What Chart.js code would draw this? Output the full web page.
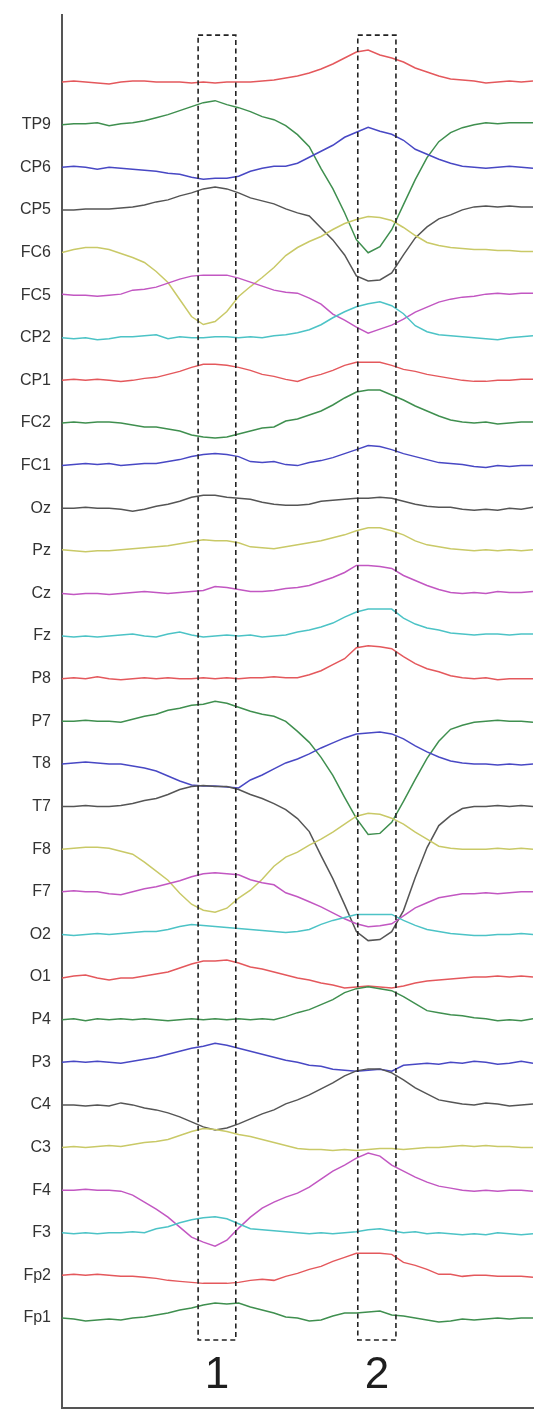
<!DOCTYPE html>
<html>
<head>
<meta charset="utf-8">
<script src="https://cdn.jsdelivr.net/npm/chart.js@4.4.1/dist/chart.umd.min.js"></script>
<style>
html, body { margin: 0; padding: 0; background: #fff; }
#wrap { width: 540px; height: 1413px; }
</style>
</head>
<body>
<div id="wrap"><canvas id="chart"></canvas></div>
<script>
// sample times (arbitrary units across the record)
var times = [0,2.5,5,7.5,10,12.5,15,17.5,20,22.5,25,27.5,30,32.5,35,37.5,40,42.5,45,47.5,
             50,52.5,55,57.5,60,62.5,65,67.5,70,72.5,75,77.5,80,82.5,85,87.5,90,92.5,95,97.5,100];

// channel names, bottom to top (top trace has no label)
var channels = ['Fp1','Fp2','F3','F4','C3','C4','P3','P4','O1','O2','F7','F8','T7','T8','P7','P8',
                'Fz','Cz','Pz','Oz','FC1','FC2','CP1','CP2','FC5','FC6','CP5','CP6','TP9',''];

// deviation of each trace from its baseline
var Fp1 = [0,-1,-3,-2,-1,-2,0,1,3,5,8,10,13,15,14,15,11,8,5,1,0,-3,-2,2,5,5,6,7,3,2,0,-2,-4,-3,-1,-2,-1,0,-1,0,0];
var Fp2 = [0,1,0,1,0,-1,-1,-2,-3,-5,-6,-7,-8,-8,-8,-7,-5,-4,-5,-1,2,6,9,14,18,22,22,22,21,13,10,6,1,1,-1,0,0,-1,-1,-1,-2];
var F3  = [0,-1,0,-1,0,0,1,0,4,6,10,13,15,16,14,9,4,3,2,1,0,-1,0,-1,0,1,3,4,2,0,1,-1,0,-1,-2,-1,-2,0,-1,-2,-1];
var F4  = [0,0,1,0,0,-1,-5,-12,-19,-27,-37,-47,-52,-56,-50,-38,-27,-18,-12,-7,-3,3,11,19,25,32,37,34,25,19,13,8,4,2,0,-1,0,-1,0,0,-1];
var C3  = [0,1,0,1,2,1,3,5,6,8,12,16,19,18,16,13,11,8,5,2,-1,-2,-2,-3,-2,-3,-2,-1,-1,-2,-1,0,0,1,2,1,2,1,1,0,0];
var C4  = [0,0,-1,0,-1,2,0,-3,-5,-8,-12,-17,-22,-25,-23,-19,-14,-9,-5,1,5,10,16,22,29,34,36,36,32,25,17,11,5,3,1,0,2,1,-1,0,1];
var P3  = [0,1,0,1,0,-1,1,3,5,8,11,14,16,19,17,14,11,8,5,2,0,-3,-4,-7,-8,-9,-8,-7,-9,-3,-2,-1,-2,0,-1,1,0,-2,-1,1,-1];
var P4  = [0,1,-1,1,0,1,0,1,0,-1,0,1,0,1,0,1,0,1,0,3,7,10,15,20,27,31,33,31,29,23,16,9,7,5,4,2,1,-1,0,-1,1];
var O1  = [-1,1,2,-1,-3,-1,-1,1,3,5,9,13,16,16,17,14,10,8,5,2,-1,-3,-6,-8,-11,-10,-9,-10,-11,-9,-6,-4,-3,-2,-1,0,0,1,0,1,0];
var O2  = [0,-1,0,1,0,1,2,3,3,5,8,10,9,8,7,6,5,4,3,2,3,5,10,14,17,20,20,20,20,14,9,5,3,1,0,-1,-1,0,0,1,0];
var F7  = [0,1,0,0,-2,-3,0,3,5,8,11,15,18,19,18,17,12,9,7,-1,-5,-10,-15,-21,-27,-32,-35,-34,-32,-24,-16,-11,-6,-4,-2,-2,-1,-2,-1,0,0];
var F8  = [0,1,2,2,1,-2,-5,-13,-22,-31,-44,-55,-61,-63,-59,-49,-41,-30,-17,-8,-3,4,10,17,25,33,36,35,31,25,17,10,3,1,0,0,0,1,0,1,0];
var T7  = [0,0,1,0,0,1,3,6,8,12,17,20,21,20,20,17,12,8,3,-3,-12,-25,-49,-72,-98,-125,-134,-133,-125,-104,-71,-41,-19,-9,-2,0,0,1,0,1,0];
var T8  = [0,1,2,1,0,0,-2,-4,-7,-12,-17,-21,-22,-22,-23,-24,-16,-11,-5,1,5,10,16,21,26,30,31,32,30,25,18,12,7,3,1,0,0,-1,0,-1,0];
var P7  = [0,0,1,0,0,-1,2,5,7,11,13,16,17,20,18,14,10,7,5,0,-10,-21,-36,-54,-76,-97,-113,-112,-101,-80,-58,-37,-20,-8,-4,-1,0,1,0,0,-1];
var P8  = [0,1,0,2,0,-1,0,1,0,1,0,0,1,0,1,0,1,1,2,1,1,4,8,14,20,31,33,32,30,22,15,10,7,3,1,0,1,-1,0,0,0];
var Fz  = [0,-1,0,-1,0,1,2,0,-1,2,4,1,-1,0,1,0,1,-1,0,1,4,6,9,13,19,24,27,27,27,18,12,8,6,3,2,1,2,2,1,2,2];
var Cz  = [0,-1,0,0,-1,0,1,2,1,0,1,2,3,7,6,4,2,2,3,5,6,8,12,16,21,28,28,27,25,18,13,8,4,1,0,1,0,2,1,1,2];
var Pz  = [1,0,-1,0,0,1,2,3,4,5,7,9,11,10,10,8,4,3,2,4,6,8,10,13,16,20,23,23,20,16,10,6,4,2,1,0,1,0,1,0,1];
var Oz  = [0,0,1,0,0,-1,-3,-1,2,4,7,11,13,13,11,10,9,6,4,3,3,4,7,8,9,10,10,11,10,7,4,2,1,1,-1,-2,-1,-2,0,-1,1];
var FC1 = [0,1,2,1,2,0,1,2,2,4,6,9,11,12,11,9,4,3,4,1,0,3,5,8,12,16,20,19,16,12,9,6,3,2,1,-1,-2,0,-1,0,0];
var FC2 = [0,1,0,1,1,0,-2,-4,-4,-6,-8,-12,-14,-15,-14,-11,-8,-5,-4,2,4,8,12,18,25,31,33,33,28,23,17,12,7,3,1,0,1,-1,0,1,1];
var CP1 = [0,1,0,1,0,-1,0,2,3,6,9,13,16,16,15,13,10,6,4,1,-1,3,6,10,15,18,18,18,15,11,9,6,4,2,0,-1,-1,0,0,1,1];
var CP2 = [0,-1,0,-2,-1,1,1,2,3,-1,1,0,0,1,1,0,1,0,2,3,5,8,13,20,26,31,34,36,32,24,12,6,3,2,1,0,-1,-2,0,1,2];
var FC5 = [1,0,0,-1,0,1,5,6,8,12,16,19,20,20,20,17,13,9,5,3,2,-3,-9,-19,-25,-32,-38,-34,-30,-24,-17,-12,-7,-4,-2,-1,1,2,1,2,2];
var FC6 = [0,3,5,5,3,-1,-5,-10,-19,-30,-47,-64,-72,-69,-59,-44,-34,-25,-15,-3,5,11,16,23,29,33,36,35,32,25,17,10,7,5,4,3,3,2,2,1,1];
var CP5 = [0,0,1,1,1,2,3,5,8,10,14,17,21,23,21,17,12,9,6,1,-3,-6,-18,-30,-45,-66,-71,-70,-63,-45,-28,-17,-9,-5,0,3,4,3,4,3,3];
var CP6 = [0,1,0,-2,0,-1,-2,-3,-4,-6,-7,-10,-12,-11,-11,-9,-4,-1,1,1,4,10,16,22,30,35,40,36,33,27,18,13,8,4,1,0,-1,0,1,0,-1];
var TP9 = [0,1,1,2,-1,1,2,4,7,10,14,18,22,24,20,17,13,8,5,-1,-10,-22,-44,-64,-88,-115,-128,-122,-105,-80,-55,-33,-17,-8,-3,0,2,1,2,2,2];
var TOP = [0,1,0,-1,-2,0,1,1,0,0,0,-1,0,-1,0,0,0,1,2,4,6,9,13,18,24,30,32,27,24,20,14,10,6,3,2,1,-1,0,1,0,1];

var traces = [Fp1,Fp2,F3,F4,C3,C4,P3,P4,O1,O2,F7,F8,T7,T8,P7,P8,Fz,Cz,Pz,Oz,FC1,FC2,CP1,CP2,FC5,FC6,CP5,CP6,TP9,TOP];

// marked windows
var windowStart = [28.9, 62.8];
var windowEnd = [36.9, 70.9];
var windowNames = ['1', '2'];

var gain = 1 / 42.6;   // deviation units per channel spacing
var colors = ['#3f8f4f', '#e4585c', '#4cc3c6', '#c257c2', '#c9c967', '#555555', '#4848c4'];

var datasets = traces.map(function(trace, i) {
    var base = i + 1;
    return {
        label: channels[i] || 'ch' + base,
        data: trace.map(function(v, j) {
            return { x: times[j], y: base + v * gain };
        }),
        borderColor: colors[i % colors.length],
        borderWidth: 1.5,
        pointRadius: 0,
        tension: 0,
        fill: false
    };
});

var windowPlugin = {
    id: 'windows',
    afterDatasetsDraw: function(chart) {
        var ctx = chart.ctx,
            xs = chart.scales.x,
            ys = chart.scales.y,
            top = ys.getPixelForValue(31.1),
            bottom = ys.getPixelForValue(0.484),
            textY = ys.getPixelForValue(-0.36);
        ctx.save();
        ctx.strokeStyle = '#222';
        ctx.lineWidth = 1.6;
        ctx.setLineDash([5, 3.5]);
        ctx.fillStyle = '#1e1e1e';
        ctx.font = '44px "Liberation Sans", Arial, sans-serif';
        ctx.textAlign = 'center';
        ctx.textBaseline = 'middle';
        windowStart.forEach(function(s, i) {
            var l = xs.getPixelForValue(s),
                r = xs.getPixelForValue(windowEnd[i]);
            ctx.strokeRect(l, top, r - l, bottom - top);
            ctx.fillText(windowNames[i], (l + r) / 2, textY);
        });
        ctx.restore();
    }
};

new Chart(document.getElementById('chart'), {
    type: 'line',
    data: { datasets: datasets },
    plugins: [windowPlugin],
    options: {
        responsive: true,
        maintainAspectRatio: false,
        animation: false,
        layout: { padding: { top: 15, right: 7, bottom: 5, left: 0 } },
        plugins: {
            legend: { display: false },
            tooltip: { enabled: false }
        },
        scales: {
            x: {
                type: 'linear',
                min: 0,
                max: 100,
                ticks: { display: false },
                grid: { display: false, drawTicks: false },
                border: { display: true, color: '#555', width: 2 },
                afterFit: function(axis) {
                    axis.height = 0;
                    axis.paddingLeft = 0;
                    axis.paddingRight = 0;
                }
            },
            y: {
                type: 'linear',
                min: -1.112,
                max: 31.573,
                bounds: 'data',
                afterBuildTicks: function(axis) {
                    axis.ticks = channels.map(function(c, i) { return { value: i + 1 }; });
                },
                ticks: {
                    autoSkip: false,
                    padding: 11,
                    color: '#333',
                    font: { family: 'Liberation Sans', size: 16 },
                    callback: function(v) { return channels[Math.round(v) - 1]; }
                },
                grid: { display: false, drawTicks: false },
                border: { display: true, color: '#555', width: 2 },
                afterFit: function(axis) {
                    axis.width = 62;
                    axis.paddingTop = 0;
                    axis.paddingBottom = 0;
                }
            }
        }
    }
});
</script>
</body>
</html>
